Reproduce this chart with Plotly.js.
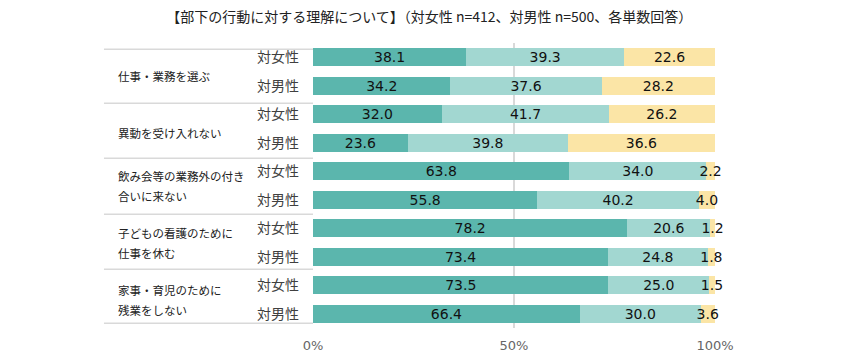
<!DOCTYPE html>
<html><head><meta charset="utf-8">
<script src="https://cdn.plot.ly/plotly-3.0.1.min.js"></script>
<style>body{margin:0;background:#fff}#c{width:850px;height:360px}</style>
</head><body><div id="c"></div>
<script>
var titleText = '【部下の行動に対する理解について】（対女性 n=412、対男性 n=500、各単数回答）';
var groups = ['仕事・業務を選ぶ', '異動を受け入れない', '飲み会等の業務外の付き<br>合いに来ない', '子どもの看護のために<br>仕事を休む', '家事・育児のために<br>残業をしない'];
var respondents = ['対女性', '対男性'];
var seriesA = [38.1, 34.2, 32.0, 23.6, 63.8, 55.8, 78.2, 73.4, 73.5, 66.4];
var seriesB = [39.3, 37.6, 41.7, 39.8, 34.0, 40.2, 20.6, 24.8, 25.0, 30.0];
var seriesC = [22.6, 28.2, 26.2, 36.6, 2.2, 4.0, 1.2, 1.8, 1.5, 3.6];
var xTicks = [0, 50, 100];

var rows = [], rowLabels = [];
groups.forEach(function(g, gi){ respondents.forEach(function(r, ri){ rows.push(gi*2+ri); rowLabels.push(r); }); });

function mk(vals, color){
  return {type:'bar', orientation:'h', x: vals, y: rows,
    marker:{color: color, line:{width:0}},
    text: vals.map(function(v){return v.toFixed(1);}),
    textposition:'inside', insidetextanchor:'middle', textangle:0, constraintext:'none',
    textfont:{family:'DejaVu Sans, Verdana, sans-serif', size:14, color:'#111'},
    hoverinfo:'skip', showlegend:false, cliponaxis:false};
}
var data = [mk(seriesA,'#5bb6ad'), mk(seriesB,'#a2d7d1'), mk(seriesC,'#fbe5a6')];

var shapes = [];
var sepY = [-0.28, 1.61, 3.54, 5.51, 7.44, 9.33];
sepY.forEach(function(y){
  shapes.push({type:'line', xref:'paper', yref:'y', x0:-0.52, x1:0, y0:y, y1:y, line:{color:'#d9d9d9', width:1.5}});
});
var annotations = [];
groups.forEach(function(g, gi){
  var lines = g.split('<br>');
  lines.forEach(function(t, li){
    var y = lines.length === 1 ? gi*2 + 0.65 : gi*2 + 0.52 + (li - 0.5) * 0.72;
    annotations.push({xref:'paper', yref:'y', x:-0.49, xanchor:'left', y: y, yanchor:'middle',
      text:t, showarrow:false, align:'left',
      font:{family:'Noto Sans CJK JP, sans-serif', size:11.5, color:'#222'}});
  });
});

var layout = {
  width:850, height:360,
  margin:{l:313, r:135, t:43, b:32, pad:0},
  paper_bgcolor:'#fff', plot_bgcolor:'#fff',
  barmode:'stack', bargap:0.37,
  title:{text:titleText, x:0.505, xanchor:'center', y:0.953, yanchor:'middle',
    font:{family:'Noto Sans CJK JP, sans-serif', size:14, color:'#222'}},
  xaxis:{range:[0,100.0001], tickvals:xTicks, ticktext:xTicks.map(function(v){return v+'%';}),
    showgrid:true, gridcolor:'#d9d9d9', gridwidth:1.2, zeroline:false, showline:false,
    ticks:'', ticklabelstandoff:8,
    tickfont:{family:'DejaVu Sans, Verdana, sans-serif', size:13, color:'#666'}, fixedrange:true},
  yaxis:{range:[9.5,-0.5], tickvals:rows, ticktext:rowLabels, showgrid:false, zeroline:false, showline:false,
    ticks:'', ticklabelstandoff:13,
    tickfont:{family:'Noto Sans CJK JP, sans-serif', size:14, color:'#404040'}, fixedrange:true},
  shapes:shapes, annotations:annotations
};
Plotly.newPlot('c', data, layout, {staticPlot:true});
</script></body></html>
